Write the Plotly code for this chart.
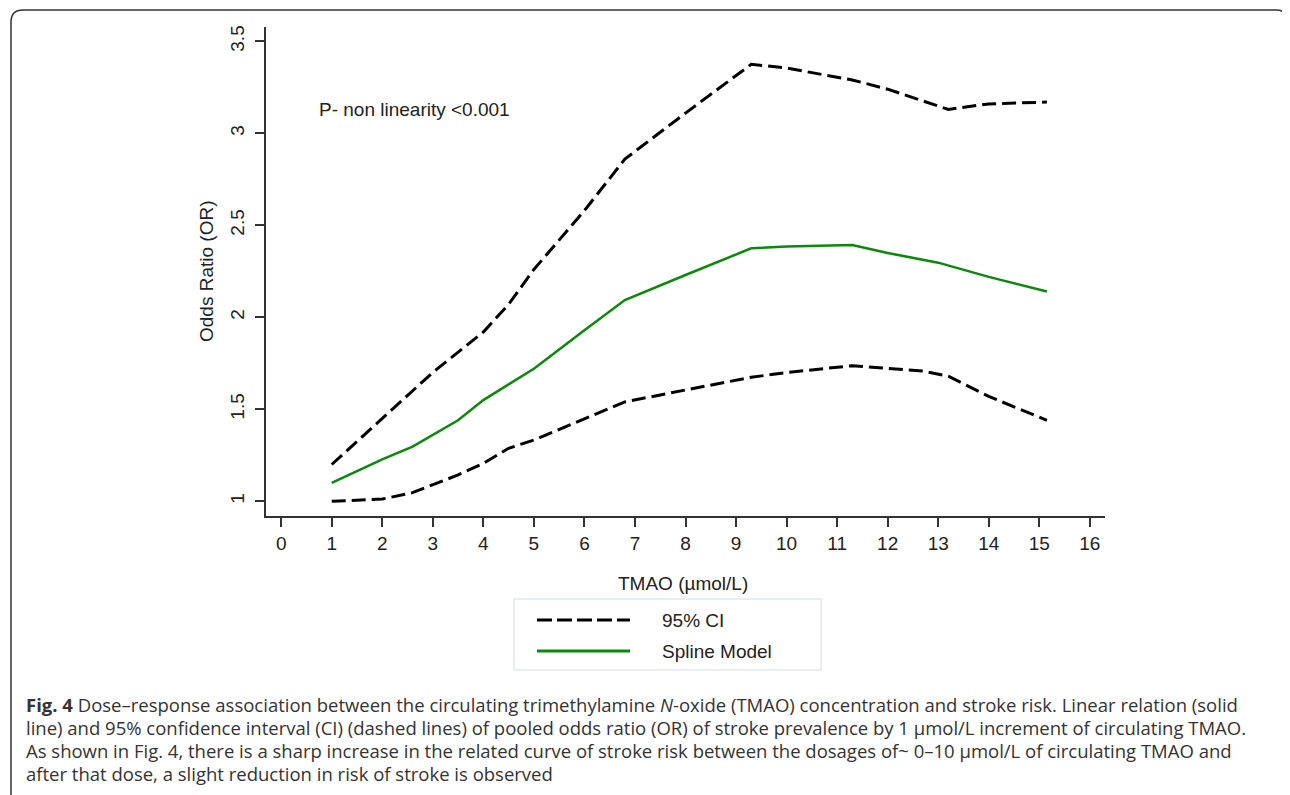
import plotly.graph_objects as go

# ---- data ----
upper_x = [1, 2, 3, 4, 4.5, 5, 6, 6.8, 8, 9.3, 10, 11.3, 12, 13.2, 14, 15.15]
upper_y = [1.20, 1.45, 1.70, 1.92, 2.07, 2.26, 2.58, 2.86, 3.11, 3.375, 3.355, 3.29, 3.24, 3.13, 3.16, 3.17]

spline_x = [1, 2, 2.6, 3.5, 4, 5, 6, 6.8, 8, 9.3, 10, 11.3, 12, 13, 14, 15.15]
spline_y = [1.10, 1.228, 1.297, 1.44, 1.55, 1.72, 1.93, 2.094, 2.23, 2.375, 2.385, 2.393, 2.35, 2.297, 2.22, 2.14]

lower_x = [1, 2, 2.6, 3, 3.5, 4, 4.5, 5, 6, 6.8, 8, 9.3, 10, 11.3, 12.7, 13.2, 14, 15.15]
lower_y = [1.0, 1.012, 1.047, 1.089, 1.143, 1.206, 1.288, 1.333, 1.45, 1.54, 1.605, 1.674, 1.70, 1.737, 1.708, 1.68, 1.57, 1.44]

x_ticks = list(range(0, 17))
y_ticks = [1, 1.5, 2, 2.5, 3, 3.5]
y_tick_labels = ["1", "1.5", "2", "2.5", "3", "3.5"]

legend_labels = ["95% CI", "Spline Model"]
annotation_text = "P- non linearity <0.001"
x_title = "TMAO (µmol/L)"
y_title = "Odds Ratio (OR)"
caption_lines = [
    "<b>Fig. 4</b> Dose–response association between the circulating trimethylamine <i>N</i>-oxide (TMAO) concentration and stroke risk. Linear relation (solid",
    "line) and 95% confidence interval (CI) (dashed lines) of pooled odds ratio (OR) of stroke prevalence by 1 µmol/L increment of circulating TMAO.",
    "As shown in Fig. 4, there is a sharp increase in the related curve of stroke risk between the dosages of~ 0–10 µmol/L of circulating TMAO and",
    "after that dose, a slight reduction in risk of stroke is observed",
]

# ---- layout geometry (page pixels) ----
OFF = 8  # page body margin
W, H = 1290, 795
L, R, T, B = 266, 1105, 27, 516
PW, PH = R - L, B - T


def px(x):
    return (x - L) / PW


def py(y):
    return (B - y) / PH


CHART_FONT = "Liberation Sans, Arial, sans-serif"
CAP_FONT = "Open Sans, sans-serif"
GREEN = "#0a8a0a"
FS = 19

fig = go.Figure()
dash_line = dict(color="black", width=3, dash="14px,6px")
fig.add_trace(go.Scatter(x=upper_x, y=upper_y, mode="lines", line=dash_line, showlegend=False))
fig.add_trace(go.Scatter(x=lower_x, y=lower_y, mode="lines", line=dash_line, showlegend=False))
fig.add_trace(go.Scatter(x=spline_x, y=spline_y, mode="lines",
                         line=dict(color=GREEN, width=2.5), showlegend=False))

axis_common = dict(showgrid=False, zeroline=False, showline=True, linecolor="#333",
                   linewidth=1.5, ticks="outside", ticklen=9, tickwidth=1.5, tickcolor="#333",
                   tickfont=dict(family=CHART_FONT, size=FS, color="#222"), mirror=False)

fig.update_xaxes(range=[-0.3, 16.3], tickmode="array", tickvals=x_ticks,
                 ticktext=[str(v) for v in x_ticks], **axis_common)
fig.update_yaxes(range=[0.92, 3.578], tickmode="array", tickvals=y_ticks,
                 ticktext=y_tick_labels, tickangle=-90, ticklabelstandoff=4, **axis_common)

shapes = []
annotations = []

# outer rounded border
r = 12
x0b, x1b, y0b, y1b = 11, 1288, 10, 800
path = (f"M {px(x0b)},{py(y1b)} L {px(x0b)},{py(y0b + r)} "
        f"Q {px(x0b)},{py(y0b)} {px(x0b + r)},{py(y0b)} "
        f"L {px(x1b - r)},{py(y0b)} Q {px(x1b)},{py(y0b)} {px(x1b)},{py(y0b + r)} "
        f"L {px(x1b)},{py(y1b)}")
shapes.append(dict(type="path", xref="paper", yref="paper", path=path,
                   line=dict(color="#333", width=1.5)))

# legend box
shapes.append(dict(type="rect", xref="paper", yref="paper", x0=px(514), x1=px(821),
                   y0=py(670), y1=py(599), line=dict(color="#e3e8ec", width=1.5),
                   fillcolor="white"))
shapes.append(dict(type="line", xref="paper", yref="paper", x0=px(537), x1=px(630),
                   y0=py(620), y1=py(620), line=dict(color="black", width=3, dash="15px,5px")))
shapes.append(dict(type="line", xref="paper", yref="paper", x0=px(537), x1=px(630),
                   y0=py(651), y1=py(651), line=dict(color=GREEN, width=3)))
for lab, yy in zip(legend_labels, [620, 651]):
    annotations.append(dict(text=lab, xref="paper", yref="paper", x=px(660), y=py(yy),
                            xanchor="left", yanchor="middle", showarrow=False,
                            font=dict(family=CHART_FONT, size=FS, color="#222")))

# in-plot annotation
annotations.append(dict(text=annotation_text, xref="paper", yref="paper", x=px(317), y=py(110),
                        xanchor="left", yanchor="middle", showarrow=False,
                        font=dict(family=CHART_FONT, size=FS, color="#222")))
# axis titles
annotations.append(dict(text=x_title, xref="paper", yref="paper", x=px(683), y=py(583),
                        xanchor="center", yanchor="middle", showarrow=False,
                        font=dict(family=CHART_FONT, size=FS, color="#222")))
annotations.append(dict(text=y_title, xref="paper", yref="paper", x=px(206), y=py(272),
                        xanchor="center", yanchor="middle", showarrow=False, textangle=-90,
                        font=dict(family=CHART_FONT, size=FS, color="#222")))
# caption
for i, line in enumerate(caption_lines):
    annotations.append(dict(text=line, xref="paper", yref="paper", x=px(24), y=py(704 + i * 23.3),
                            xanchor="left", yanchor="middle", showarrow=False, align="left",
                            font=dict(family=CAP_FONT, size=18.5, color="#333")))

fig.update_layout(width=W - OFF, height=H - OFF, autosize=False,
                  margin=dict(l=L - OFF, r=W - R, t=T - OFF, b=H - B, pad=0),
                  plot_bgcolor="white", paper_bgcolor="white",
                  shapes=shapes, annotations=annotations, showlegend=False)

fig.write_html("out.html", include_plotlyjs=True, config={"displayModeBar": False})
